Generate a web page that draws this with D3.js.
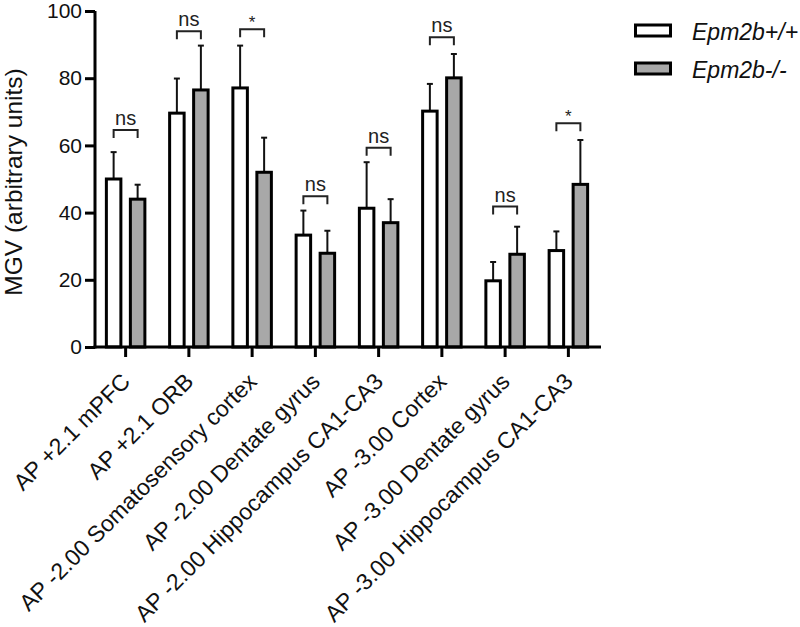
<!DOCTYPE html>
<html><head><meta charset="utf-8">
<script src="https://cdn.jsdelivr.net/npm/d3@7"></script>
<style>html,body{margin:0;padding:0;background:#fff}svg{display:block}</style>
</head><body>
<svg id="chart" width="800" height="627"></svg>
<script>
const categories = ["AP +2.1 mPFC","AP +2.1 ORB","AP -2.00 Somatosensory cortex","AP -2.00 Dentate gyrus","AP -2.00 Hippocampus CA1-CA3","AP -3.00 Cortex","AP -3.00 Dentate gyrus","AP -3.00 Hippocampus CA1-CA3"];
const seriesNames = ["Epm2b+/+","Epm2b-/-"];
const wtMean = [50.0, 69.6, 77.1, 33.3, 41.3, 70.2, 19.7, 28.7];
const wtErr  = [8.0, 10.3, 12.6, 7.3, 13.7, 8.1, 5.6, 5.7];
const koMean = [44.0, 76.5, 52.0, 27.9, 37.0, 80.1, 27.6, 48.4];
const koErr  = [4.3, 13.2, 10.3, 6.7, 7.0, 7.1, 8.2, 13.2];
const sigLabels = ["ns","ns","*","ns","ns","ns","ns","*"];
const sigLevel  = [64.6, 94.0, 94.6, 44.9, 59.3, 92.2, 41.8, 66.6];
const yTicks = [0, 20, 40, 60, 80, 100];
const yTitle = "MGV (arbitrary units)";

const svg = d3.select("#chart");
const FONT = "'Liberation Sans', Arial, Helvetica, sans-serif";
const x = d3.scaleBand().domain(categories).range([94, 600]).padding(0);
const y = d3.scaleLinear().domain([0, 100]).range([347, 11]);
const off = 12, bw = 14.5;
const gray = "#a8a8a8";

const rows = categories.map((c, i) => ({c, i, vals: [
  {s: 0, v: wtMean[i], e: wtErr[i]},
  {s: 1, v: koMean[i], e: koErr[i]}
]}));
const cx = (c, s) => x(c) + x.bandwidth() / 2 + (s === 0 ? -off : off);

// error bars (behind bars)
const eg = svg.append("g");
rows.forEach(r => r.vals.forEach(d => {
  const xc = cx(r.c, d.s);
  eg.append("line").attr("x1", xc).attr("x2", xc).attr("y1", y(d.v)).attr("y2", y(d.v + d.e))
    .attr("stroke", "#111").attr("stroke-width", 2);
  eg.append("line").attr("x1", xc - 3).attr("x2", xc + 3).attr("y1", y(d.v + d.e)).attr("y2", y(d.v + d.e))
    .attr("stroke", "#111").attr("stroke-width", 2);
}));

// bars
const bg = svg.append("g");
rows.forEach(r => r.vals.forEach(d => {
  bg.append("rect").attr("x", cx(r.c, d.s) - bw / 2).attr("width", bw)
    .attr("y", y(d.v)).attr("height", y(0) - y(d.v))
    .attr("fill", d.s === 0 ? "#fff" : gray).attr("stroke", "#000").attr("stroke-width", 3);
}));

// significance brackets
const sg = svg.append("g");
categories.forEach((c, i) => {
  const yy = y(sigLevel[i]), x1 = cx(c, 0), x2 = cx(c, 1);
  sg.append("path").attr("d", `M${x1},${yy + 8}V${yy}H${x2}V${yy + 8}`)
    .attr("fill", "none").attr("stroke", "#222").attr("stroke-width", 2);
  const star = sigLabels[i] === "*";
  sg.append("text").attr("x", (x1 + x2) / 2).attr("y", star ? yy - 1 : yy - 5)
    .attr("text-anchor", "middle").attr("font-family", FONT)
    .attr("font-size", star ? 17 : 20).attr("fill", "#222").text(sigLabels[i]);
});

// axes
const yAxis = d3.axisLeft(y).tickValues(yTicks).tickSize(10).tickPadding(3);
const gy = svg.append("g").attr("transform", "translate(95,0)").call(yAxis);
gy.select(".domain").attr("stroke", "#000").attr("stroke-width", 3).attr("d", `M0,${y(0) + 1.5}V${y(100)}`);
gy.selectAll(".tick line").attr("stroke", "#000").attr("stroke-width", 3);
gy.selectAll(".tick text").attr("font-family", FONT).attr("font-size", 21).attr("fill", "#111");

const xAxis = d3.axisBottom(x).tickSize(10).tickFormat("");
const gx = svg.append("g").attr("transform", `translate(0,${y(0)})`).call(xAxis);
gx.select(".domain").attr("stroke", "#000").attr("stroke-width", 3).attr("d", "M93.5,0H601");
gx.selectAll(".tick line").attr("stroke", "#000").attr("stroke-width", 3);

// x labels rotated
const lg = svg.append("g");
categories.forEach(c => {
  const xc = x(c) + x.bandwidth() / 2;
  lg.append("text").attr("transform", `translate(${xc + 6},${y(0) + 36}) rotate(-45)`)
    .attr("text-anchor", "end").attr("font-family", FONT).attr("font-size", 23).attr("fill", "#111")
    .text(c);
});

// y title
svg.append("text").attr("transform", "translate(22,182) rotate(-90)")
  .attr("text-anchor", "middle").attr("font-family", FONT).attr("font-size", 24.5).attr("fill", "#111")
  .text(yTitle);

// legend
const leg = svg.append("g");
seriesNames.forEach((n, i) => {
  const ly = 25 + i * 38;
  leg.append("rect").attr("x", 635.5).attr("y", ly).attr("width", 35).attr("height", 11)
    .attr("fill", i === 0 ? "#fff" : gray).attr("stroke", "#000").attr("stroke-width", 3);
  leg.append("text").attr("x", 692).attr("y", ly + 15).attr("font-family", FONT)
    .attr("font-style", "italic").attr("font-size", 23).attr("fill", "#111").text(n);
});
</script>
</body></html>
